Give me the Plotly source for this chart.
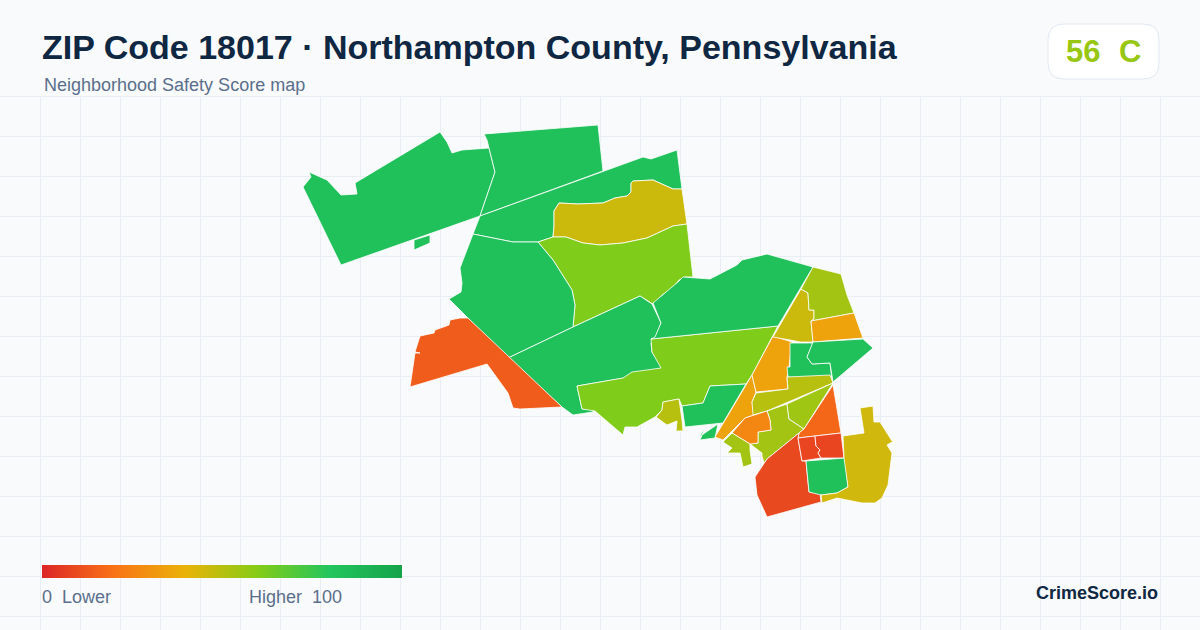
import plotly.graph_objects as go

# --- 1. Data ---
# Neighborhood outlines (x, y in map units)
nw_tract = [(309,172),(327,180),(341,195),(357,194),(355,183),(440,132),(447,142),(452,153),(462,150),(489,148),(495,172),(480,216),(341,265),(303,187),(311,177)]
nw_islet = [(414,240),(430,235),(430,243),(414,250)]
north_tract = [(484,134),(598,125),(603,171),(480,216),(495,172),(489,148),(487,140)]
band_tract = [(480,216),(603,171),(643,157),(651,159),(677,150),(682,189),(673,189),(653,180),(633,181),(631,183),(631,192),(627,196),(615,198),(603,203),(578,204),(559,203),(554,211),(554,226),(553,237),(538,242),(513,242),(473,234)]
gold_north = [(559,203),(578,204),(603,203),(615,198),(627,196),(631,192),(631,183),(633,181),(653,180),(673,189),(682,189),(687,224),(673,226),(647,238),(623,243),(600,245),(583,243),(566,237),(553,237),(554,226),(554,211)]
lime_north = [(538,242),(553,237),(566,237),(583,243),(600,245),(623,243),(647,238),(673,226),(687,224),(693,277),(685,277),(679,280),(673,288),(662,295),(653,304),(640,296),(573,327),(575,305),(572,290),(553,260)]
west_tract = [(473,234),(513,242),(538,242),(553,260),(572,290),(575,305),(573,327),(508,358),(468,318),(449,299),(461,292),(462,283),(460,268)]
central_tract = [(508,358),(573,327),(640,296),(652,304),(661,323),(655,338),(651,343),(652,352),(662,368),(653,371),(632,373),(624,378),(577,386),(582,409),(593,409),(593,412),(573,415),(562,407)]
red_west = [(468,318),(562,407),(520,409),(513,408),(508,393),(487,364),(410,387),(415,353),(420,353),(415,352),(420,336),(434,333),(435,330),(449,325),(450,320),(460,318)]
lime_central = [(577,386),(623,378),(632,372),(661,368),(652,352),(651,339),(778,326),(752,375),(746,384),(710,386),(703,403),(682,406),(679,399),(663,402),(662,410),(655,417),(637,427),(625,427),(623,435),(595,411),(582,409)]
north_central = [(651,339),(778,326),(813,267),(767,254),(742,260),(737,265),(710,279),(683,277),(678,282),(670,289),(653,303),(661,323),(655,337)]
small_gold = [(663,402),(679,399),(682,420),(683,431),(676,431),(677,421),(667,425),(656,417),(662,410)]
green_strip = [(682,406),(703,403),(710,386),(746,384),(723,423),(685,427)]
green_sliver = [(699,437),(718,424),(715,438),(700,440),(705,428)]
orange_edge = [(752,375),(756,392),(752,402),(754,415),(745,418),(723,440),(715,437)]
orange_north = [(773,336),(792,342),(789,367),(787,378),(788,389),(756,392),(752,375)]
gold_ne = [(801,289),(808,293),(809,310),(814,310),(814,319),(811,321),(813,342),(800,342),(790,340),(773,337)]
lime_ne = [(813,267),(841,274),(847,295),(854,313),(811,321),(814,319),(814,310),(809,310),(808,293),(801,289)]
orange_ne = [(811,321),(854,313),(863,338),(813,342)]
green_inner = [(790,343),(813,343),(807,357),(812,364),(830,363),(832,381),(788,377),(787,367),(790,367)]
green_east = [(813,342),(863,339),(873,348),(833,382),(830,363),(812,364),(807,357)]
olive_mid = [(756,393),(788,389),(787,377),(830,375),(833,383),(767,411),(753,415),(752,402)]
lime_mid = [(767,411),(787,404),(789,419),(804,429),(767,459),(764,463),(762,456),(762,453),(750,444),(758,443),(758,432),(771,430),(770,420)]
orange_mid = [(767,411),(770,420),(771,430),(758,432),(758,443),(750,444),(732,433),(745,418)]
lime_right = [(787,404),(833,383),(804,429),(789,419)]
lime_sw = [(723,442),(732,433),(750,444),(750,450),(752,464),(743,467),(740,453),(727,453),(732,448)]
red_orange_mid = [(833,385),(841,433),(798,438),(799,433),(804,429)]
red_sw = [(798,438),(802,461),(806,461),(809,492),(820,493),(821,502),(767,517),(761,503),(757,495),(755,477),(767,459),(799,433)]
red_left = [(798,438),(815,436),(816,446),(820,450),(818,453),(821,458),(802,461)]
red_right = [(815,436),(841,433),(844,458),(821,458),(818,453),(820,450),(816,446)]
green_south = [(806,461),(845,458),(848,487),(837,493),(821,495),(809,492)]
gold_east = [(843,436),(864,433),(860,408),(873,406),(874,422),(880,422),(892,441),(897,439),(887,445),(892,453),(888,485),(882,498),(875,503),(862,503),(837,498),(822,503),(821,495),(837,493),(848,487),(844,458)]

area_outlines = [nw_tract, nw_islet, north_tract, band_tract, gold_north, lime_north, west_tract,
                 central_tract, red_west, lime_central, north_central, small_gold, green_strip,
                 green_sliver, orange_edge, orange_north, gold_ne, lime_ne, orange_ne, green_inner,
                 green_east, olive_mid, lime_mid, orange_mid, lime_right, lime_sw, red_orange_mid,
                 red_sw, red_left, red_right, green_south, gold_east]
area_scores = [83, 83, 83, 83, 46, 61, 83,
               83, 14, 61, 83, 50, 83,
               83, 35, 35, 46, 54, 35, 83,
               83, 50, 54, 26, 55, 54, 17,
               9, 8, 8, 83, 45]

score_value = "56"
score_grade = "C"

# Safety score colour scale
legend_stops = [0, 20, 40, 60, 80, 100]
legend_colors = ["#dc2626", "#f97316", "#eab308", "#84cc16", "#22c55e", "#16a34a"]

GRID = "#e9eef5"
NAVY = "#0f2742"
SLATE = "#5b6f8c"
FONT = "Liberation Sans"


def score_color(score):
    # Linear interpolation between legend stops
    for i in range(len(legend_stops) - 1):
        lo, hi = legend_stops[i], legend_stops[i + 1]
        if lo <= score <= hi:
            t = (score - lo) / (hi - lo)
            a, b = legend_colors[i], legend_colors[i + 1]
            rgb = [round(int(a[j:j + 2], 16) * (1 - t) + int(b[j:j + 2], 16) * t) for j in (1, 3, 5)]
            return f"rgb({rgb[0]},{rgb[1]},{rgb[2]})"
    return legend_colors[-1]


# --- 2. Figure ---
fig = go.Figure()

# Header band hides the grid above the map
fig.add_trace(go.Scatter(x=[0, 1200, 1200, 0], y=[0, 0, 96, 96], fill="toself", mode="none",
                         fillcolor="#f8fafc", hoverinfo="skip", showlegend=False))

for outline, score in zip(area_outlines, area_scores):
    xs = [p[0] for p in outline] + [outline[0][0]]
    ys = [p[1] for p in outline] + [outline[0][1]]
    fig.add_trace(go.Scatter(x=xs, y=ys, fill="toself", mode="lines",
                             fillcolor=score_color(score), line=dict(color="#ffffff", width=0.8),
                             text=f"Score {score}", hoverinfo="text", showlegend=False))

# Legend bar
fig.add_trace(go.Scatter(
    x=[42, 402, 402, 42], y=[565, 565, 578, 578], fill="toself", mode="none",
    fillgradient=dict(type="horizontal",
                      colorscale=[[s / 100, c] for s, c in zip(legend_stops, legend_colors)]),
    hoverinfo="skip", showlegend=False))


def label(x, y, text, size, color, anchor="left", bold=False):
    fig.add_annotation(x=x, y=y, text=f"<b>{text}</b>" if bold else text, showarrow=False,
                       xanchor=anchor, yanchor="middle", borderpad=0, borderwidth=0,
                       font=dict(family=FONT, size=size, color=color))


label(42, 47, "ZIP Code 18017 · Northampton County, Pennsylvania", 34, NAVY, bold=True)
label(44, 85, "Neighborhood Safety Score map", 18, SLATE)
label(1066, 51, score_value, 31, score_color(56), bold=True)
label(1119, 51, score_grade, 31, score_color(56), bold=True)
label(42, 597, "0\u00a0\u00a0Lower", 18, SLATE)
label(249, 597, "Higher\u00a0\u00a0100", 18, SLATE)
label(1158, 593, "CrimeScore.io", 18, NAVY, anchor="right", bold=True)

# Score badge
badge_path = ("M 1064 24 L 1143 24 Q 1159 24 1159 40 L 1159 63 Q 1159 79 1143 79 "
              "L 1064 79 Q 1048 79 1048 63 L 1048 40 Q 1048 24 1064 24 Z")

fig.update_layout(
    width=1200, height=630,
    margin=dict(l=0, r=0, t=0, b=0),
    paper_bgcolor="#f8fafc",
    plot_bgcolor="#f8fafc",
    shapes=[dict(type="path", path=badge_path, fillcolor="#ffffff",
                 line=dict(color="#e2e8f0", width=1), layer="above")],
    xaxis=dict(range=[0, 1200], tick0=0, dtick=40, showgrid=True, gridcolor=GRID, gridwidth=1,
               zeroline=False, showticklabels=False, ticks="", fixedrange=True),
    yaxis=dict(range=[630, 0], tick0=16, dtick=40, showgrid=True, gridcolor=GRID, gridwidth=1,
               zeroline=False, showticklabels=False, ticks="", fixedrange=True),
)
fig.write_html("out.html", config=dict(displayModeBar=False),
               post_script="document.body.style.margin='0';document.documentElement.style.background='#f8fafc';")
